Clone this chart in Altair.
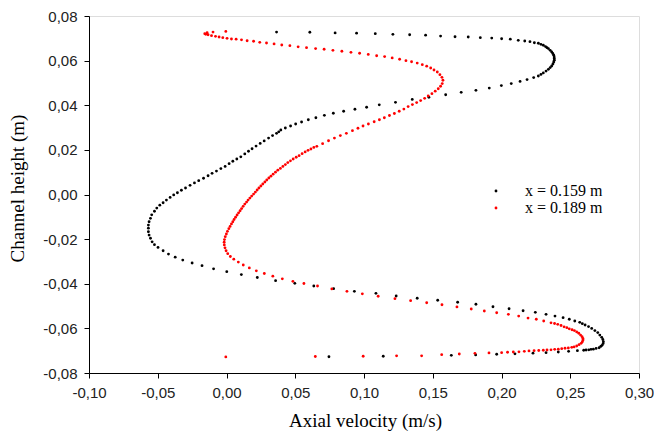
import altair as alt
import pandas as pd

# Axial velocity profiles across the channel height at two stations
black_label = "x = 0.159 m"
red_label = "x = 0.189 m"

black_v = [
    0.0364, 0.0606, 0.0790, 0.0946, 0.1082, 0.1210, 0.1332, 0.1448, 0.1557, 0.1662,
    0.1758, 0.1846, 0.1929, 0.2001, 0.2064, 0.2122, 0.2169, 0.2207, 0.2239,
    0.2268, 0.2287, 0.2304, 0.2320, 0.2331, 0.2341, 0.2354, 0.2365, 0.2373, 0.2380,
    0.2383, 0.2384, 0.2384, 0.2380, 0.2374, 0.2365, 0.2354, 0.2341, 0.2324, 0.2304,
    0.2287, 0.2268,
    0.2234, 0.2186, 0.2135, 0.2071, 0.1999, 0.1911, 0.1814, 0.1707, 0.1594, 0.1472,
    0.1351, 0.1229, 0.1111, 0.1019, 0.0934, 0.0852, 0.0777, 0.0712, 0.0650, 0.0595,
    0.0546, 0.0503, 0.0466, 0.0428, 0.0395, 0.0380, 0.0364, 0.0335, 0.0306, 0.0274,
    0.0245, 0.0215, 0.0186, 0.0160, 0.0133, 0.0104, 0.0075, 0.0046, 0.0019, -0.0010,
    -0.0041, -0.0073, -0.0105, -0.0134, -0.0167, -0.0202, -0.0233, -0.0265, -0.0298, -0.0328,
    -0.0357, -0.0384, -0.0410, -0.0437, -0.0461, -0.0485, -0.0507, -0.0524, -0.0544, -0.0553,
    -0.0563, -0.0568, -0.0568, -0.0568, -0.0563, -0.0553, -0.0541, -0.0524, -0.0498, -0.0461,
    -0.0422, -0.0373, -0.0318, -0.0250, -0.0178, -0.0094, 0.0002, 0.0108, 0.0224, 0.0357,
    0.0497, 0.0635, 0.0779, 0.0930, 0.1087, 0.1234, 0.1387, 0.1536, 0.1681, 0.1814,
    0.1938, 0.2055, 0.2157, 0.2246, 0.2324, 0.2389, 0.2448, 0.2493, 0.2533, 0.2569,
    0.2588, 0.2608, 0.2633, 0.2656, 0.2679, 0.2700, 0.2715, 0.2729, 0.2737, 0.2741,
    0.2739, 0.2731, 0.2722, 0.2710, 0.2688, 0.2668, 0.2651, 0.2635, 0.2615, 0.2598,
    0.2552, 0.2488, 0.2413, 0.2324, 0.2229, 0.2098, 0.1965, 0.1812, 0.1635, 0.1140,
    0.0745,
]
black_h = [
    0.0728, 0.0727, 0.0724, 0.0723, 0.0721, 0.0718, 0.0716, 0.0714, 0.0710, 0.0707,
    0.0706, 0.0703, 0.0701, 0.0698, 0.0696, 0.0691, 0.0688, 0.0685, 0.0680,
    0.0678, 0.0673, 0.0669, 0.0663, 0.0658, 0.0654, 0.0646, 0.0639, 0.0632, 0.0624,
    0.0616, 0.0609, 0.0602, 0.0594, 0.0585, 0.0576, 0.0569, 0.0561, 0.0553, 0.0545,
    0.0538, 0.0531,
    0.0524, 0.0515, 0.0507, 0.0497, 0.0488, 0.0477, 0.0467, 0.0458, 0.0447, 0.0436,
    0.0426, 0.0413, 0.0402, 0.0391, 0.0382, 0.0373, 0.0364, 0.0355, 0.0344, 0.0335,
    0.0325, 0.0316, 0.0307, 0.0298, 0.0289, 0.0281, 0.0274, 0.0264, 0.0253, 0.0240,
    0.0229, 0.0217, 0.0205, 0.0194, 0.0182, 0.0169, 0.0159, 0.0149, 0.0138, 0.0126,
    0.0116, 0.0105, 0.0095, 0.0084, 0.0073, 0.0062, 0.0052, 0.0041, 0.0029, 0.0019,
    0.0008, -0.0002, -0.0013, -0.0025, -0.0037, -0.0048, -0.0061, -0.0075, -0.0091, -0.0107,
    -0.0122, -0.0137, -0.0151, -0.0167, -0.0182, -0.0196, -0.0212, -0.0225, -0.0237, -0.0252,
    -0.0267, -0.0281, -0.0294, -0.0307, -0.0319, -0.0333, -0.0346, -0.0359, -0.0372, -0.0386,
    -0.0398, -0.0410, -0.0422, -0.0434, -0.0443, -0.0455, -0.0465, -0.0474, -0.0483, -0.0492,
    -0.0503, -0.0512, -0.0521, -0.0528, -0.0537, -0.0545, -0.0552, -0.0559, -0.0567, -0.0573,
    -0.0579, -0.0585, -0.0592, -0.0600, -0.0610, -0.0619, -0.0630, -0.0640, -0.0650, -0.0660,
    -0.0668, -0.0676, -0.0681, -0.0687, -0.0690, -0.0693, -0.0694, -0.0696, -0.0697, -0.0698,
    -0.0700, -0.0703, -0.0706, -0.0709, -0.0711, -0.0714, -0.0716, -0.0719, -0.0721, -0.0725,
    -0.0727,
]

red_v = [
    -0.0005, -0.0098, -0.0141, -0.0158, -0.0151, -0.0134, -0.0109, -0.0080, -0.0054, -0.0027,
    0.0004, 0.0036, 0.0070, 0.0109, 0.0150, 0.0197, 0.0242, 0.0291, 0.0346, 0.0402,
    0.0461, 0.0521, 0.0582, 0.0648, 0.0710, 0.0774, 0.0839, 0.0905, 0.0968, 0.1031,
    0.1092, 0.1150, 0.1205, 0.1259, 0.1305, 0.1346, 0.1387, 0.1424, 0.1456, 0.1485,
    0.1509, 0.1533, 0.1552, 0.1567, 0.1574, 0.1569, 0.1557, 0.1540, 0.1518, 0.1494,
    0.1467, 0.1441, 0.1412, 0.1383, 0.1352, 0.1321, 0.1290, 0.1256, 0.1221, 0.1185,
    0.1148, 0.1112, 0.1074, 0.1032, 0.0993, 0.0956, 0.0916, 0.0872, 0.0828, 0.0785,
    0.0742, 0.0699, 0.0657, 0.0635, 0.0614, 0.0593, 0.0572, 0.0550, 0.0528, 0.0507,
    0.0485, 0.0465, 0.0446, 0.0428, 0.0410, 0.0392, 0.0373, 0.0356, 0.0339, 0.0323,
    0.0308, 0.0293, 0.0279, 0.0264, 0.0250, 0.0236, 0.0223, 0.0210, 0.0197, 0.0183,
    0.0170, 0.0157, 0.0146, 0.0133, 0.0121, 0.0110, 0.0099, 0.0088, 0.0077, 0.0066,
    0.0055, 0.0046, 0.0036, 0.0026, 0.0017, 0.0007, -0.0001, -0.0009, -0.0015, -0.0017,
    -0.0016, -0.0011, -0.0003, 0.0009, 0.0028, 0.0053, 0.0086, 0.0122, 0.0166, 0.0217,
    0.0275, 0.0337, 0.0406, 0.0483, 0.0563, 0.0662, 0.0766, 0.0876, 0.0988, 0.1103,
    0.1225, 0.1339, 0.1456, 0.1567, 0.1676, 0.1780, 0.1875, 0.1965, 0.2050, 0.2125,
    0.2193, 0.2253, 0.2307, 0.2360, 0.2386, 0.2409, 0.2433, 0.2455, 0.2475, 0.2493,
    0.2513, 0.2530, 0.2547, 0.2562, 0.2575, 0.2586, 0.2592, 0.2593, 0.2588, 0.2579,
    0.2564, 0.2547, 0.2528, 0.2511, 0.2486, 0.2462, 0.2438, 0.2413, 0.2387, 0.2360,
    0.2331, 0.2304, 0.2271, 0.2237, 0.2200, 0.2166, 0.2127, 0.2086, 0.2044, 0.2001,
    0.1909, 0.1807, 0.1693, 0.1565, 0.1419, 0.1237, 0.0994, 0.0646, -0.0005,
]
red_h = [
    0.0731, 0.0728, 0.0725, 0.0721, 0.0718, 0.0716, 0.0712, 0.0709, 0.0706, 0.0703,
    0.0700, 0.0697, 0.0696, 0.0693, 0.0689, 0.0687, 0.0682, 0.0679, 0.0675, 0.0670,
    0.0667, 0.0662, 0.0658, 0.0654, 0.0651, 0.0646, 0.0642, 0.0637, 0.0633, 0.0628,
    0.0622, 0.0618, 0.0612, 0.0606, 0.0600, 0.0595, 0.0589, 0.0582, 0.0575, 0.0567,
    0.0558, 0.0549, 0.0537, 0.0525, 0.0512, 0.0497, 0.0485, 0.0474, 0.0463, 0.0452,
    0.0442, 0.0431, 0.0421, 0.0412, 0.0403, 0.0394, 0.0383, 0.0373, 0.0363, 0.0354,
    0.0344, 0.0335, 0.0326, 0.0316, 0.0307, 0.0297, 0.0286, 0.0274, 0.0264, 0.0253,
    0.0241, 0.0228, 0.0216, 0.0211, 0.0204, 0.0198, 0.0191, 0.0183, 0.0174, 0.0167,
    0.0159, 0.0151, 0.0143, 0.0134, 0.0126, 0.0117, 0.0109, 0.0100, 0.0091, 0.0082,
    0.0074, 0.0065, 0.0056, 0.0047, 0.0038, 0.0029, 0.0020, 0.0011, 0.0002, -0.0007,
    -0.0016, -0.0025, -0.0034, -0.0043, -0.0053, -0.0063, -0.0073, -0.0082, -0.0092, -0.0102,
    -0.0112, -0.0122, -0.0132, -0.0143, -0.0153, -0.0165, -0.0177, -0.0189, -0.0202, -0.0214,
    -0.0226, -0.0239, -0.0252, -0.0265, -0.0278, -0.0290, -0.0303, -0.0316, -0.0329, -0.0342,
    -0.0354, -0.0366, -0.0378, -0.0389, -0.0399, -0.0410, -0.0423, -0.0434, -0.0445, -0.0456,
    -0.0467, -0.0476, -0.0485, -0.0494, -0.0504, -0.0513, -0.0522, -0.0530, -0.0537, -0.0545,
    -0.0554, -0.0559, -0.0567, -0.0575, -0.0578, -0.0582, -0.0587, -0.0593, -0.0597, -0.0602,
    -0.0606, -0.0610, -0.0616, -0.0622, -0.0630, -0.0637, -0.0645, -0.0652, -0.0660, -0.0667,
    -0.0673, -0.0679, -0.0683, -0.0685, -0.0688, -0.0689, -0.0691, -0.0693, -0.0694, -0.0696,
    -0.0697, -0.0698, -0.0699, -0.0700, -0.0701, -0.0703, -0.0705, -0.0706, -0.0707, -0.0709,
    -0.0710, -0.0712, -0.0715, -0.0718, -0.0723, -0.0723, -0.0725, -0.0726, -0.0728,
]

x_ticks = [-0.10, -0.05, 0.00, 0.05, 0.10, 0.15, 0.20, 0.25, 0.30]
y_ticks = [-0.08, -0.06, -0.04, -0.02, 0.00, 0.02, 0.04, 0.06, 0.08]

df = pd.concat([
    pd.DataFrame({"v": black_v, "h": black_h, "station": black_label, "order": 0}),
    pd.DataFrame({"v": red_v, "h": red_h, "station": red_label, "order": 1}),
], ignore_index=True)

# decimal comma labels with a plain hyphen for negatives
comma_fmt = "(datum.value < 0 ? '-' : '') + replace(format(abs(datum.value), '.2f'), '.', ',')"

axis_common = dict(
    labelFont="Liberation Sans",
    labelFontSize=15,
    labelColor="#222222",
    labelPadding=7,
    labelExpr=comma_fmt,
    labelFlush=False,
    labelOverlap=False,
    tickSize=5,
    tickColor="#000000",
    domainColor="#000000",
    grid=False,
    titleFont="Liberation Serif",
    titleFontSize=19,
    titleFontWeight="normal",
    titleColor="#000000",
)

chart = alt.Chart(df).mark_circle(size=8, opacity=1).encode(
    x=alt.X(
        "v:Q",
        scale=alt.Scale(domain=[-0.10, 0.30], nice=False, zero=False),
        axis=alt.Axis(
            values=x_ticks,
            title="Axial velocity (m/s)",
            titleX=276,
            titleY=47,
            titleBaseline="middle",
            titleAlign="center",
            **axis_common,
        ),
    ),
    y=alt.Y(
        "h:Q",
        scale=alt.Scale(domain=[-0.08, 0.08], nice=False, zero=False),
        axis=alt.Axis(
            values=y_ticks,
            title="Channel height (m)",
            titleX=-72,
            titleY=172,
            titleBaseline="middle",
            titleAlign="center",
            titleAngle=270,
            **axis_common,
        ),
    ),
    color=alt.Color(
        "station:N",
        scale=alt.Scale(domain=[black_label, red_label], range=["#000000", "#ff0000"]),
        legend=alt.Legend(
            title=None,
            orient="none",
            legendX=399,
            legendY=167,
            padding=0,
            symbolType="circle",
            symbolSize=8,
            symbolStrokeWidth=0,
            labelFont="Liberation Serif",
            labelFontSize=16,
            labelColor="#000000",
            labelOffset=21,
            rowPadding=1,
        ),
    ),
    order=alt.Order("order:Q"),
).properties(
    width=550,
    height=357,
    autosize=alt.AutoSizeParams(type="none"),
    padding={"left": 89, "top": 16, "right": 15, "bottom": 61},
).configure_view(
    stroke="#000000",
    strokeWidth=1,
).configure(
    background="white",
)

chart.save("out.html", embed_options={"renderer": "svg", "actions": False})
